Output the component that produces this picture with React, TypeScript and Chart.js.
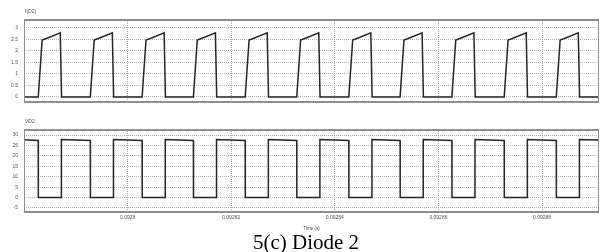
import React, { useEffect, useRef } from 'react';
import { Chart, registerables } from 'chart.js';
Chart.register(...registerables);

// ---- data ----
const X_MIN = 0.09278;
const X_MAX = 0.092891;
const xTickValues = [0.0928, 0.09282, 0.09284, 0.09286, 0.09288];
const xTickLabels = ['0.0928', '0.09282', '0.09284', '0.09286', '0.09288'];

const topTickValues = [0, 0.5, 1, 1.5, 2, 2.5, 3];
const topTickLabels = ['0', '0.5', '1', '1.5', '2', '2.5', '3'];
const bottomTickValues = [-5, 0, 5, 10, 15, 20, 25, 30];
const bottomTickLabels = ['-5', '0', '5', '10', '15', '20', '25', '30'];

// start of each conduction pulse, microseconds after X_MIN
const pulseStartsUs = [2.75, 12.8, 22.8, 32.7, 42.7, 52.65, 62.7, 72.6, 82.6, 92.7, 102.75];

// I(D2) pulse: offsets (µs) from pulse start and current (A)
const iOffsetsUs = [0, 0.75, 1.8, 4.25, 4.5];
const iValues = [0, 2.46, 2.55, 2.77, 0];

// VD2: offsets (µs) from pulse start and voltage (V)
const vOffsetsUs = [0, 0.02, 4.45, 4.47];
const vValues = [27.4, 0, 0, 27.9];
const vStartValue = 27.7;
const vEndValue = 27.6;

const FONT = 'Liberation Sans, Arial, sans-serif';

const toSec = (us: number) => X_MIN + us * 1e-6;

function buildSeries(offsets: number[], values: number[], startVal: number, endVal: number) {
  const pts: { x: number; y: number }[] = [{ x: X_MIN, y: startVal }];
  pulseStartsUs.forEach((s) => {
    offsets.forEach((o, k) => pts.push({ x: toSec(s + o), y: values[k] }));
  });
  pts.push({ x: X_MAX, y: endVal });
  return pts;
}

const iData = buildSeries(iOffsetsUs, iValues, 0, 0);
const vData = buildSeries(vOffsetsUs, vValues, vStartValue, vEndValue);

function makePlugins(label: string) {
  return [
    {
      id: 'frameAndLabel',
      afterDraw(chart: any) {
        const { ctx, chartArea } = chart;
        const { left, top, right, bottom } = chartArea;
        ctx.save();
        ctx.strokeStyle = '#8f8f8f';
        ctx.lineWidth = 1;
        ctx.strokeRect(left + 0.5, top + 0.5, right - left - 1, bottom - top - 1);
        ctx.lineWidth = 2;
        ctx.beginPath();
        ctx.moveTo(left, top + 1);
        ctx.lineTo(right, top + 1);
        ctx.moveTo(left, bottom - 1);
        ctx.lineTo(right, bottom - 1);
        ctx.stroke();
        ctx.fillStyle = '#555';
        ctx.font = `5px ${FONT}`;
        ctx.textBaseline = 'middle';
        ctx.textAlign = 'left';
        ctx.fillText(label, left + 1, top - 7);
        ctx.restore();
      },
    },
  ];
}

function commonOptions(
  yMin: number,
  yMax: number,
  yTicks: number[],
  yLabels: string[],
  padTop: number,
  padBottom: number,
  showX: boolean
): any {
  return {
    responsive: false,
    animation: false,
    events: [],
    layout: { padding: { left: 0, right: 2, top: padTop, bottom: padBottom } },
    plugins: { legend: { display: false }, tooltip: { enabled: false }, title: { display: false } },
    scales: {
      x: {
        type: 'linear',
        min: X_MIN,
        max: X_MAX,
        afterBuildTicks: (s: any) => {
          s.ticks = xTickValues.map((v) => ({ value: v }));
        },
        afterFit: (s: any) => {
          s.height = showX ? 19 : 0;
        },
        ticks: {
          display: showX,
          autoSkip: false,
          maxRotation: 0,
          padding: 2,
          color: '#555',
          font: { size: 5, family: FONT },
          callback: (_v: any, i: number) => xTickLabels[i],
        },
        title: {
          display: showX,
          text: 'Time (s)',
          color: '#555',
          font: { size: 4.5, family: FONT },
          padding: { top: 0, bottom: 1 },
        },
        grid: { color: '#a8a8a8', lineWidth: 1, drawTicks: false },
        border: { display: false, dash: [1, 1] },
      },
      y: {
        type: 'linear',
        min: yMin,
        max: yMax,
        afterBuildTicks: (s: any) => {
          s.ticks = yTicks.map((v) => ({ value: v }));
        },
        afterFit: (s: any) => {
          s.width = 24;
        },
        ticks: {
          padding: 6,
          color: '#555',
          font: { size: 5, family: FONT },
          callback: (_v: any, i: number) => yLabels[i],
        },
        grid: { color: '#b8b8b8', lineWidth: 1, drawTicks: false },
        border: { display: false, dash: [1, 1] },
      },
    },
  };
}

export default function App() {
  const topRef = useRef<HTMLCanvasElement>(null);
  const botRef = useRef<HTMLCanvasElement>(null);

  useEffect(() => {
    const top = new Chart(topRef.current!, {
      type: 'line',
      data: {
        datasets: [
          {
            data: iData,
            borderColor: '#262626',
            borderWidth: 1.5,
            pointRadius: 0,
            tension: 0,
            fill: false,
          },
        ],
      },
      options: commonOptions(-0.26, 3.37, topTickValues, topTickLabels, 19, 4, false),
      plugins: makePlugins('I(D2)'),
    } as any);
    const bot = new Chart(botRef.current!, {
      type: 'line',
      data: {
        datasets: [
          {
            data: vData,
            borderColor: '#262626',
            borderWidth: 1.5,
            pointRadius: 0,
            tension: 0,
            fill: false,
          },
        ],
      },
      options: commonOptions(-7.4, 32.9, bottomTickValues, bottomTickLabels, 17, 0, true),
      plugins: makePlugins('VD2'),
    } as any);
    return () => {
      top.destroy();
      bot.destroy();
    };
  }, []);

  return (
    <div
      style={{
        position: 'absolute',
        left: 0,
        top: 0,
        width: 601,
        height: 252,
        background: '#fff',
        overflow: 'hidden',
      }}
    >
      <canvas ref={topRef} width={601} height={112} style={{ position: 'absolute', left: 0, top: 0 }} />
      <canvas ref={botRef} width={601} height={120} style={{ position: 'absolute', left: 0, top: 112 }} />
      <div
        style={{
          position: 'absolute',
          left: 206,
          top: 232,
          width: 200,
          textAlign: 'center',
          fontFamily: '"Liberation Serif", "Times New Roman", serif',
          fontSize: 21,
          lineHeight: '21px',
          color: '#000',
          whiteSpace: 'nowrap',
        }}
      >
        5(c) Diode 2
      </div>
    </div>
  );
}
